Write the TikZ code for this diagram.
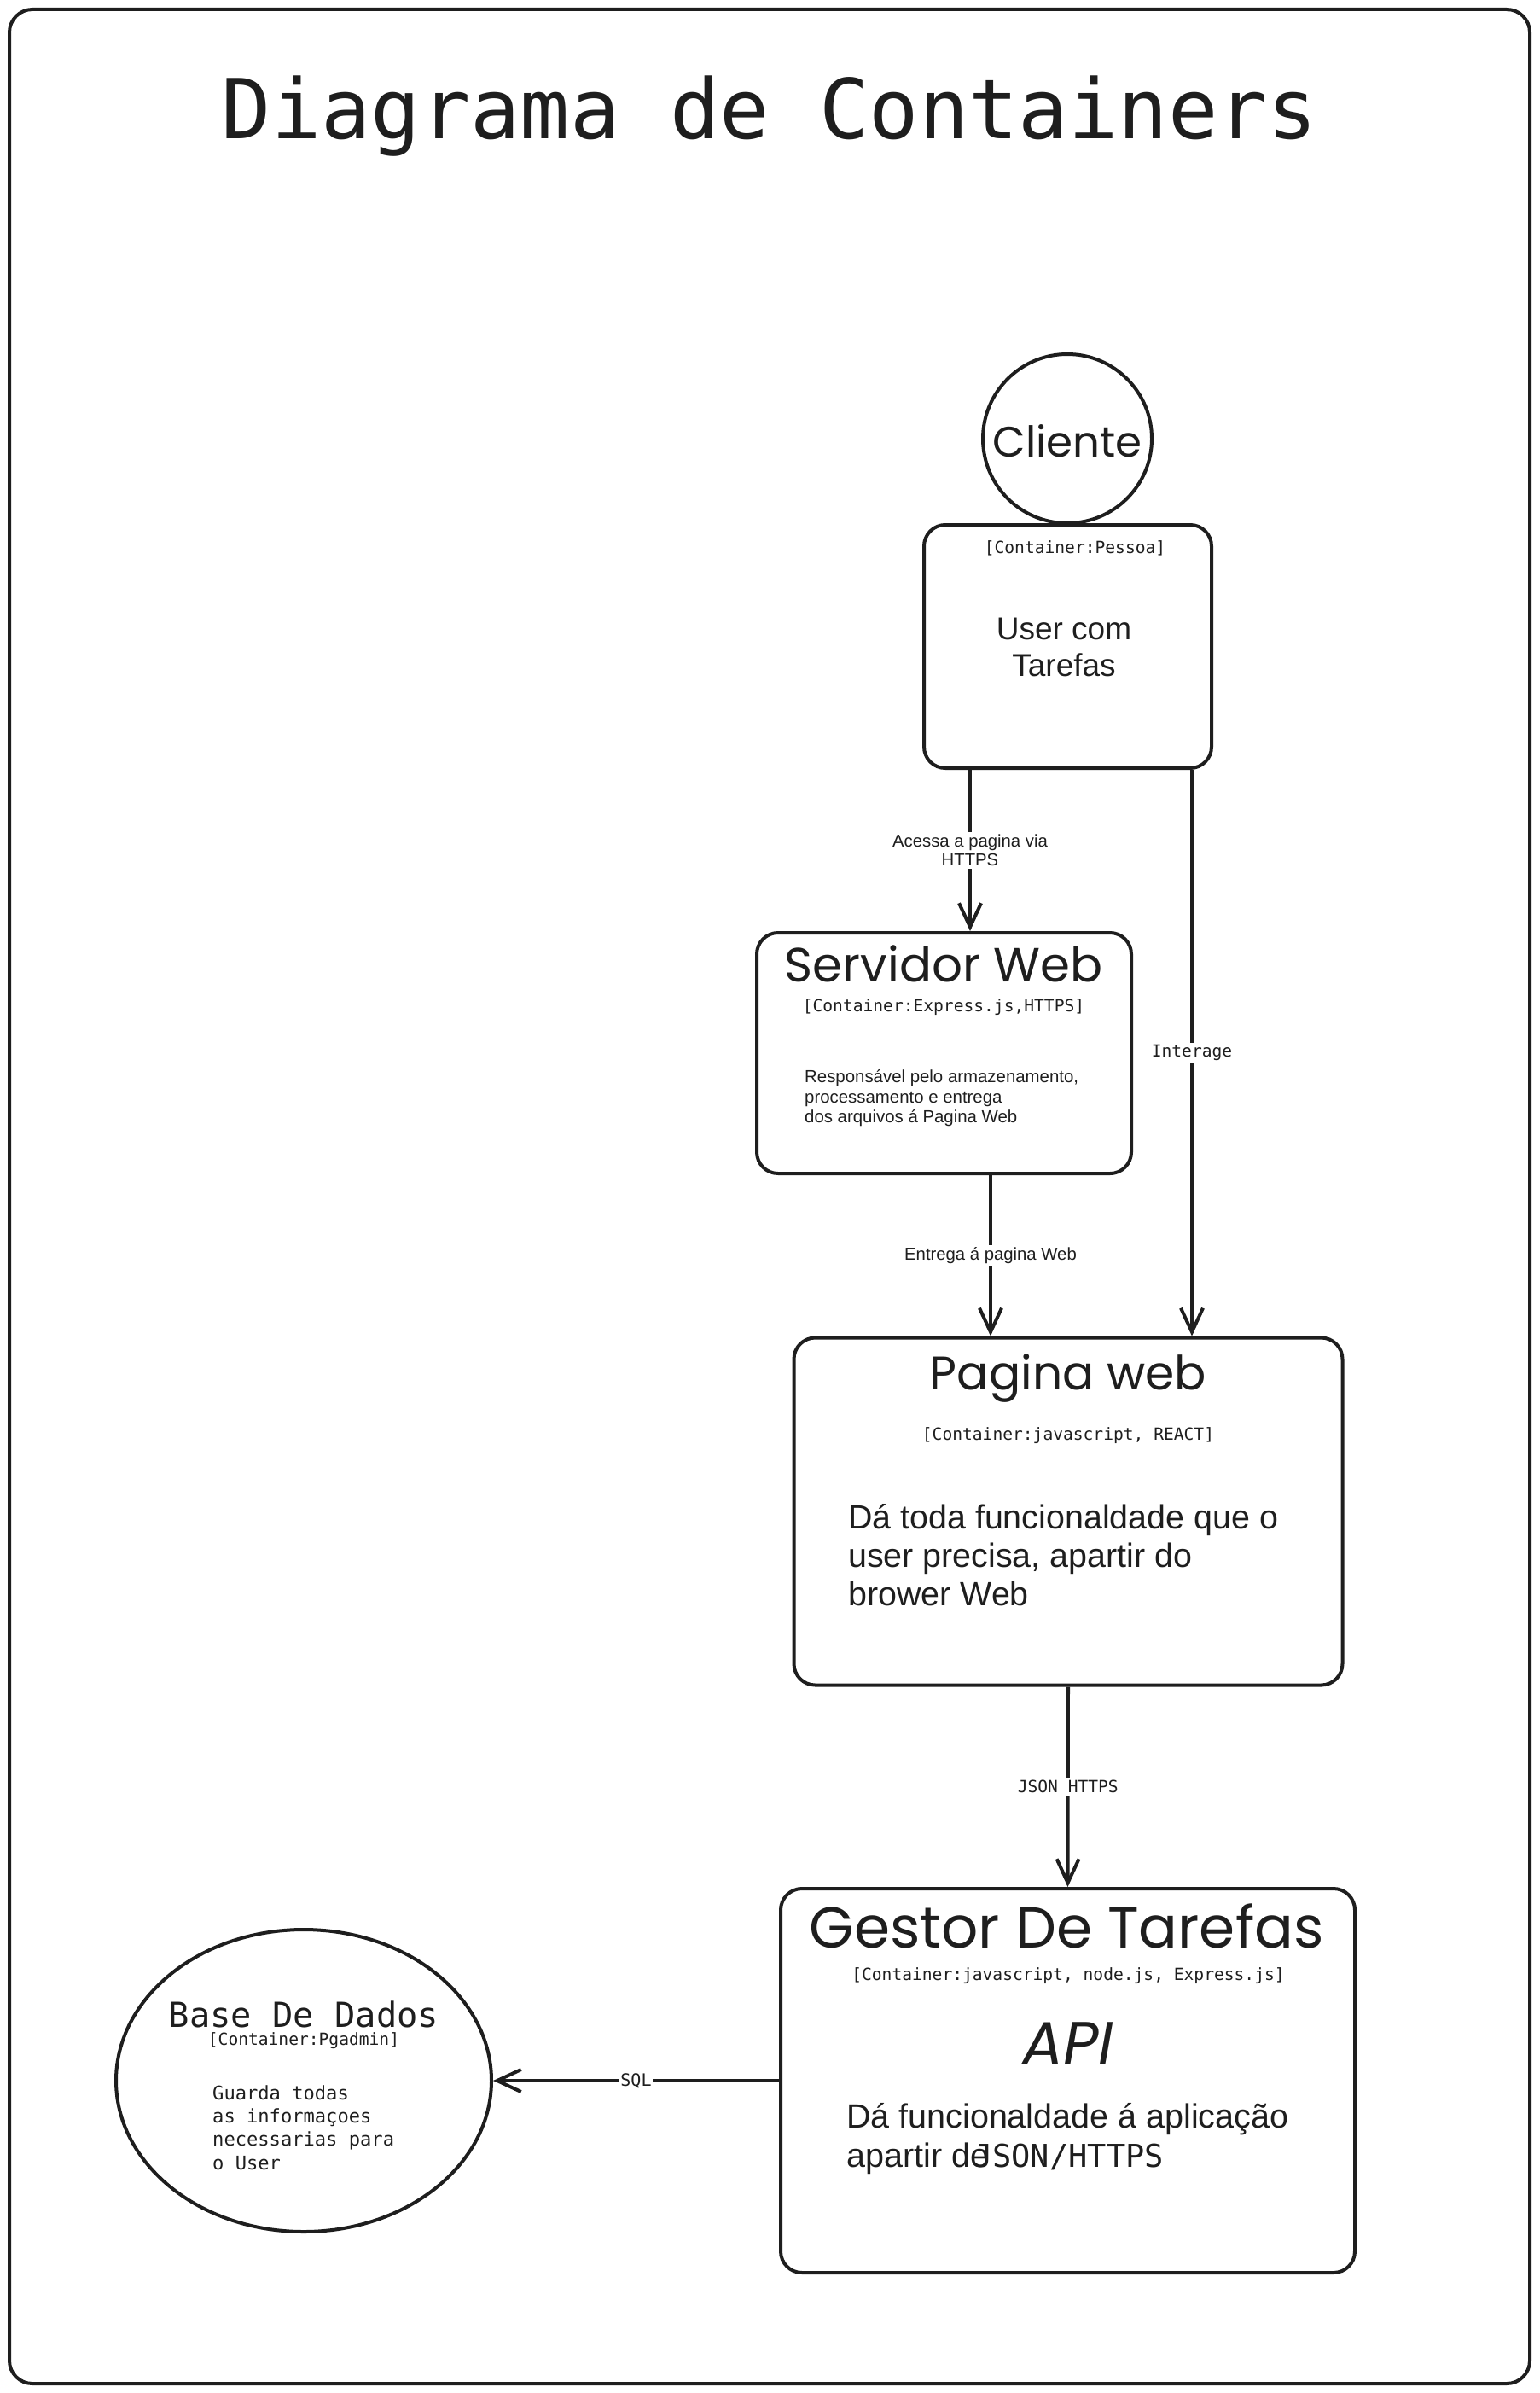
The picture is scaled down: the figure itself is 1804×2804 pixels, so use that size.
\documentclass[tikz,border=0pt]{standalone}
\usepackage{fontspec}
\usepackage{graphicx}
\setmainfont{Liberation Sans}
\newfontfamily\codefont{DejaVu Sans Mono}
\newfontfamily\handfont{Poppins}
\usetikzlibrary{arrows.meta,shapes.geometric}
\definecolor{ink}{HTML}{1E1E1E}
\newcommand\fs[2]{\fontsize{#1}{#2}\selectfont}

\begin{document}
\begin{tikzpicture}[x=1pt,y=-1pt,
  every node/.style={text=ink},
  frame/.style={draw=ink, line width=4pt, rounded corners=27pt},
  cbox/.style={draw=ink, line width=4pt, rounded corners=25pt, inner sep=0pt},
  hand/.style={inner sep=0pt, font=\handfont},
  tech/.style={inner sep=0pt, font={\codefont\fs{19.6}{24}}},
  body/.style={inner sep=0pt, align=left},
  arr/.style={draw=ink, line width=4pt, -{Straight Barb[length=28pt,width=26pt]}},
  lbl/.style={fill=white, inner sep=3pt}
]
\useasboundingbox (0,0) rectangle (1804,2804);

% outer frame
\draw[frame] (11,11) rectangle (1793,2793);

% title
\node[inner sep=0pt, anchor=base, font={\codefont\fs{97}{116}}] (title) at (902,163) {Diagrama de Containers};

% person
\node[circle, draw=ink, line width=4pt, minimum size=198pt, inner sep=0pt] (cliente) at (1251,514) {};
\node[hand, anchor=base] (clienteT) at (1251,535) {\resizebox{175pt}{!}{Cliente}};
\node[cbox, minimum width=337pt, minimum height=285pt] (pessoa) at (1251.5,757.5) {};
\node[tech] (pessoaTech) at (1260,642) {[Container:Pessoa]};
\node[inner sep=0pt, align=center, font={\fs{37}{43}}] (pessoaTxt) at (1247,758) {User com\\ Tarefas};

% web server
\node[cbox, minimum width=439pt, minimum height=282pt] (srv) at (1106.5,1234) {};
\node[hand, anchor=base] (srvT) at (1106,1150) {\resizebox{372pt}{!}{Servidor Web}};
\node[tech] (srvTech) at (1106,1180) {[Container:Express.js,HTTPS]};
\node[body, anchor=west, font={\fs{20.4}{23.5}}] (srvTxt) at (943,1287) {Responsável pelo armazenamento,\\processamento e entrega\\dos arquivos á Pagina Web};

% web page
\node[cbox, minimum width=643pt, minimum height=407pt] (pagina) at (1252,1771) {};
\node[hand, anchor=base] (paginaT) at (1252,1628) {\resizebox{324pt}{!}{Pagina web}};
\node[tech] (paginaTech) at (1252,1682) {[Container:javascript, REACT]};
\node[body, anchor=west, font={\fs{39.4}{45}}] (paginaTxt) at (994,1822) {Dá toda funcionaldade que o\\user precisa, apartir do\\brower Web};

% task manager
\node[cbox, minimum width=673pt, minimum height=450pt] (gestor) at (1251.5,2438) {};
\node[hand, anchor=base] (gestorT) at (1250,2282) {\resizebox{603pt}{!}{Gestor De Tarefas}};
\node[tech] (gestorTech) at (1252,2315) {[Container:javascript, node.js, Express.js]};
\node[hand, anchor=base] (api) at (1252,2419) {\resizebox{107pt}{!}{\itshape API}};
\node[body, anchor=west, font={\fs{39.5}{46.5}}] (gestorTxt) at (992,2506) {Dá funcionaldade á aplicação\\apartir de\hspace{-18pt}{\codefont\fs{37}{46.5}JSON/HTTPS}};

% database
\node[ellipse, draw=ink, line width=4pt, minimum width=440pt, minimum height=354pt, inner sep=0pt] (db) at (356,2438) {};
\node[inner sep=0pt, font={\codefont\fs{40.4}{48}}] (dbT) at (356,2360) {Base De Dados};
\node[tech] (dbTech) at (356,2391) {[Container:Pgadmin]};
\node[body, anchor=west, font={\codefont\fs{22.1}{27.4}}] (dbTxt) at (249,2493) {Guarda todas\\as informaçoes\\necessarias para\\o User};

% connectors
\draw[arr] ([xshift=-114.5pt]pessoa.south) -- node[lbl, align=center, font={\fs{20.3}{22}}] {Acessa a pagina via\\HTTPS} ([xshift=30.5pt]srv.north);
\draw[arr] ([xshift=145.5pt]pessoa.south) -- node[lbl, font={\codefont\fs{19.6}{24}}] {Interage} ([xshift=145pt]pagina.north);
\draw[arr] ([xshift=54.5pt]srv.south) -- node[lbl, font={\fs{20.3}{24}}] {Entrega á pagina Web} ([xshift=-91pt]pagina.north);
\draw[arr] (pagina.south) -- node[lbl, font={\codefont\fs{19.6}{24}}] {JSON HTTPS} (gestor.north);
\draw[arr] (gestor.west) -- node[lbl, inner sep=1pt, font={\codefont\fs{20}{24}}] {SQL} (db.east);
\end{tikzpicture}
\end{document}
